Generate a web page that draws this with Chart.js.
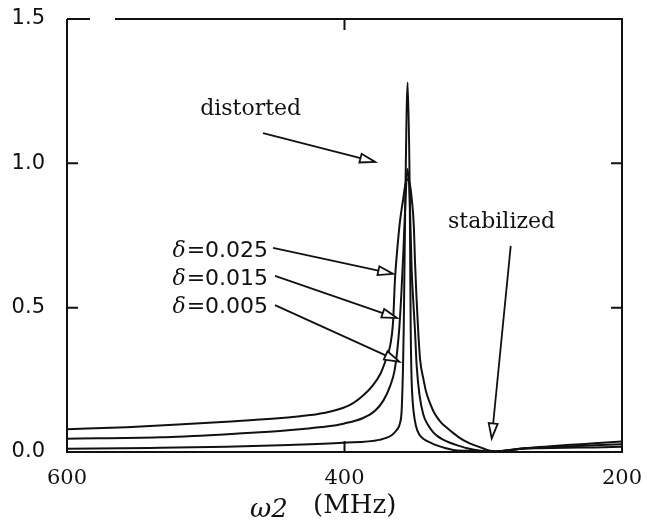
<!DOCTYPE html>
<html>
<head>
<meta charset="utf-8">
<script src="https://cdn.jsdelivr.net/npm/chart.js@4.4.1/dist/chart.umd.min.js"></script>
<style>
  html, body { margin: 0; background: #fff; }
  #wrap { width: 647px; height: 526px; }
</style>
</head>
<body>
<div id="wrap"><canvas id="chart"></canvas></div>
<script>
// ω2 (MHz) and response for each delta
const freqA = [600, 557, 520, 485, 450, 432, 420, 410, 396, 387, 380, 374, 370, 367, 365, 363.6, 362, 360, 357.8, 356,
               354.8, 353, 351.4, 350, 349.2, 347, 345.5, 343, 341, 338, 336, 333, 330, 326, 322, 317, 312, 305, 300, 295,
               290, 285, 280, 271, 260, 240, 220, 200];
const sigA  = [0.079, 0.086, 0.095, 0.105, 0.116, 0.124, 0.131, 0.140, 0.163, 0.194, 0.228, 0.272, 0.322, 0.37, 0.45, 0.60, 0.70, 0.80, 0.873, 0.93,
               0.945, 0.93, 0.87, 0.78, 0.66, 0.43, 0.32, 0.25, 0.205, 0.165, 0.142, 0.118, 0.10, 0.083, 0.067, 0.049, 0.035, 0.021, 0.012, 0.004,
               0.002, 0.004, 0.008, 0.013, 0.017, 0.024, 0.030, 0.036];

const freqB = [600, 533, 490, 461, 430, 413, 400, 387, 378, 372, 367, 364, 362, 360.5, 359, 357.5, 356, 354.6, 353, 351.6,
               350.4, 349.2, 348, 346, 343.2, 340, 336, 333, 329, 324, 318, 310, 303, 295, 288, 280, 271, 260, 240, 220, 200];
const sigB  = [0.046, 0.051, 0.060, 0.068, 0.080, 0.088, 0.099, 0.117, 0.143, 0.178, 0.23, 0.28, 0.35, 0.43, 0.55, 0.70, 0.88, 0.98, 0.88, 0.63,
               0.52, 0.42, 0.30, 0.20, 0.13, 0.095, 0.068, 0.055, 0.043, 0.032, 0.022, 0.011, 0.005, 0.002, 0.003, 0.007, 0.012, 0.015, 0.019, 0.023, 0.027];

const freqC = [600, 540, 485, 440, 401, 375, 366, 362.4, 360, 358.8, 357.8, 357.3, 356.8, 356.1, 354.5, 353.0, 352.6, 352.3, 351.8, 351.2,
               350.2, 348.5, 346, 343, 337, 333, 327, 321.6, 312, 303, 295, 288, 280, 271, 260, 240, 220, 200];
const sigC  = [0.011, 0.014, 0.018, 0.024, 0.032, 0.042, 0.058, 0.076, 0.10, 0.145, 0.30, 0.43, 0.63, 0.90, 1.28, 0.90, 0.63, 0.43, 0.28, 0.20,
               0.14, 0.09, 0.06, 0.045, 0.03, 0.022, 0.013, 0.007, 0.004, 0.002, 0.001, 0.003, 0.007, 0.011, 0.013, 0.015, 0.016, 0.018];

const deltaLabels = ['0.025', '0.015', '0.005'];
const xTicks = [600, 400, 200];
const yTicks = [0, 0.5, 1.0, 1.5];

// where the notes and arrows sit, in data units (MHz, signal)
const notes = [
  { text: 'distorted', at: [504, 1.167] },
  { text: 'stabilized', at: [325.4, 0.776] }
];
const deltaAt = [[455.1, 0.675], [455.1, 0.578], [455.1, 0.480]];
const arrows = [
  { from: [458.7, 1.105], to: [378.0, 1.005] },
  { from: [451.5, 0.707], to: [365.0, 0.617] },
  { from: [450.1, 0.610], to: [362.2, 0.464] },
  { from: [450.1, 0.509], to: [360.5, 0.313] },
  { from: [280.2, 0.714], to: [293.9, 0.047] }
];

function points(fs, vs) {
  return fs.map((f, i) => ({ x: f, y: vs[i] }));
}

function curve(fs, vs) {
  return {
    data: points(fs, vs),
    borderColor: '#111',
    borderWidth: 2,
    pointRadius: 0,
    fill: false,
    cubicInterpolationMode: 'monotone'
  };
}

function drawArrow(ctx, x0, y0, x1, y1) {
  const ang = Math.atan2(y1 - y0, x1 - x0);
  const len = 15, half = 4.5;
  const bx = x1 - len * Math.cos(ang), by = y1 - len * Math.sin(ang);
  ctx.beginPath();
  ctx.moveTo(x0, y0);
  ctx.lineTo(bx, by);
  ctx.stroke();
  // open triangular head
  ctx.beginPath();
  ctx.moveTo(x1, y1);
  ctx.lineTo(bx + half * Math.sin(ang), by - half * Math.cos(ang));
  ctx.lineTo(bx - half * Math.sin(ang), by + half * Math.cos(ang));
  ctx.closePath();
  ctx.fillStyle = '#fff';
  ctx.fill();
  ctx.stroke();
}

const figureMarks = {
  id: 'figureMarks',
  afterDatasetsDraw(chart) {
    const { ctx, chartArea: a, scales: { x, y } } = chart;
    ctx.save();
    ctx.strokeStyle = '#111';
    ctx.lineWidth = 2;

    // frame (the scan has a small break in the top edge)
    ctx.beginPath();
    ctx.moveTo(a.left, a.top);
    ctx.lineTo(a.left + 23, a.top);
    ctx.moveTo(a.left + 48, a.top);
    ctx.lineTo(a.right, a.top);
    ctx.lineTo(a.right, a.bottom);
    ctx.lineTo(a.left, a.bottom);
    ctx.lineTo(a.left, a.top);
    ctx.stroke();

    // inward ticks on all four sides
    const tl = 11;
    ctx.beginPath();
    yTicks.forEach(v => {
      const py = y.getPixelForValue(v);
      ctx.moveTo(a.left, py); ctx.lineTo(a.left + tl, py);
      ctx.moveTo(a.right, py); ctx.lineTo(a.right - tl, py);
    });
    xTicks.forEach(v => {
      const px = x.getPixelForValue(v);
      ctx.moveTo(px, a.bottom); ctx.lineTo(px, a.bottom - tl);
      ctx.moveTo(px, a.top); ctx.lineTo(px, a.top + tl);
    });
    ctx.stroke();

    // arrows
    ctx.lineWidth = 1.8;
    arrows.forEach(ar => {
      drawArrow(ctx,
        x.getPixelForValue(ar.from[0]), y.getPixelForValue(ar.from[1]),
        x.getPixelForValue(ar.to[0]), y.getPixelForValue(ar.to[1]));
    });

    // text notes
    ctx.fillStyle = '#111';
    ctx.textBaseline = 'alphabetic';
    ctx.textAlign = 'left';
    ctx.font = '22px "DejaVu Serif"';
    notes.forEach(n => {
      ctx.fillText(n.text, x.getPixelForValue(n.at[0]), y.getPixelForValue(n.at[1]));
    });

    deltaLabels.forEach((d, i) => {
      const rx = x.getPixelForValue(deltaAt[i][0]);
      const by = y.getPixelForValue(deltaAt[i][1]);
      ctx.font = '22px "DejaVu Sans"';
      ctx.textAlign = 'right';
      const rest = '=' + d;
      ctx.fillText(rest, rx, by);
      const w = ctx.measureText(rest).width;
      ctx.font = 'italic 22px "DejaVu Serif"';
      ctx.fillText('δ', rx - w - 1, by);
    });

    // axis title
    ctx.textAlign = 'left';
    ctx.font = 'italic 26px "DejaVu Serif"';
    ctx.fillText('ω2', a.left + 183, 517);
    ctx.font = '26px "DejaVu Serif"';
    ctx.fillText('(MHz)', a.left + 246, 513);
    ctx.restore();
  }
};

new Chart(document.getElementById('chart').getContext('2d'), {
  type: 'line',
  data: {
    datasets: [
      curve(freqA, sigA),
      curve(freqB, sigB),
      curve(freqC, sigC)
    ]
  },
  options: {
    responsive: true,
    maintainAspectRatio: false,
    animation: false,
    events: [],
    layout: { padding: { left: 0, top: 19, right: 25, bottom: 0 } },
    plugins: { legend: { display: false }, tooltip: { enabled: false } },
    scales: {
      x: {
        type: 'linear',
        reverse: true,
        min: 200,
        max: 600,
        border: { display: false },
        grid: { display: false, drawTicks: false },
        afterBuildTicks: s => { s.ticks = xTicks.map(v => ({ value: v })); },
        afterFit: s => { s.height = 74; s.paddingLeft = 0; s.paddingRight = 0; },
        ticks: {
          autoSkip: false,
          maxRotation: 0,
          padding: 14,
          color: '#111',
          font: { family: 'DejaVu Serif', size: 21 },
          callback: v => String(v)
        }
      },
      y: {
        type: 'linear',
        min: 0,
        max: 1.5,
        border: { display: false },
        grid: { display: false, drawTicks: false },
        afterBuildTicks: s => { s.ticks = yTicks.map(v => ({ value: v })); },
        afterFit: s => { s.width = 67; s.paddingTop = 0; s.paddingBottom = 0; },
        ticks: {
          padding: 22,
          color: '#111',
          font: { family: 'DejaVu Sans', size: 21 },
          callback: v => v.toFixed(1)
        }
      }
    }
  },
  plugins: [figureMarks]
});
</script>
</body>
</html>
